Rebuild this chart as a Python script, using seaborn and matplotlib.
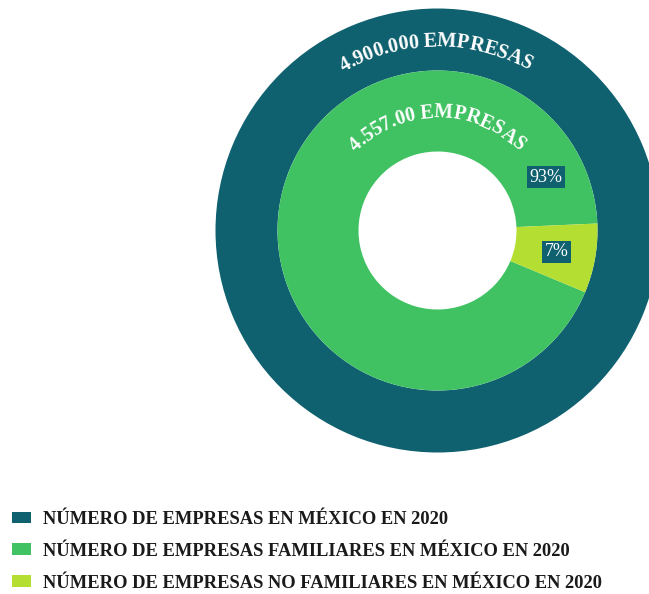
import numpy as np
import matplotlib
matplotlib.use("Agg")
import matplotlib.pyplot as plt
import seaborn as sns
from matplotlib.font_manager import FontProperties

# Data
total_firms_label = "4.900.000 EMPRESAS"
family_firms_label = "4.557.00 EMPRESAS"
outer_values = [100]
inner_categories = ["Familiares", "No familiares"]
inner_values = [93, 7]
pct_labels = ["93%", "7%"]
legend_labels = [
    "NÚMERO DE EMPRESAS EN MÉXICO EN 2020",
    "NÚMERO DE EMPRESAS FAMILIARES EN MÉXICO EN 2020",
    "NÚMERO DE EMPRESAS NO FAMILIARES EN MÉXICO EN 2020",
]

TEAL = "#0f6170"
GREEN = "#41c262"
LIME = "#b4de31"

sns.set_theme(style="white")
plt.rcParams["font.family"] = ["Liberation Serif", "DejaVu Serif"]

W, H = 649, 594
fig = plt.figure(figsize=(W / 100, H / 100), dpi=100)
ax = fig.add_axes([0, 0, 1, 1])

cx, cy = 437.5, H - 230.5
R_OUT, R_MID, R_HOLE = 222, 160, 79

outer_wedges, _ = ax.pie(outer_values, radius=R_OUT, center=(cx, cy),
                         colors=[TEAL], startangle=90,
                         wedgeprops=dict(width=R_OUT - R_MID, linewidth=0))
inner_wedges, _ = ax.pie(inner_values, radius=R_MID, center=(cx, cy),
                         colors=[GREEN, LIME], startangle=2.5, counterclock=True,
                         wedgeprops=dict(width=R_MID - R_HOLE, linewidth=0))

ax.set_xlim(0, W)
ax.set_ylim(0, H)
ax.set_aspect("equal")
ax.axis("off")

renderer = fig.canvas.get_renderer()


def text_width(s, prop):
    w, _, _ = renderer.get_text_width_height_descent(s, prop, ismath=False)
    return w


def curved_text(text, radius, mid_deg, fontsize, weight="bold", color="white", tracking=1.0):
    prop = FontProperties(family=["Liberation Serif"], size=fontsize, weight=weight)
    total = text_width(text, prop) * tracking
    for i, ch in enumerate(text):
        if ch == " ":
            continue
        end = text_width(text[: i + 1], prop)
        cw = text_width(ch, prop)
        s = (end - cw / 2) * tracking
        theta = np.radians(mid_deg) + (total / 2 - s) / radius
        x = cx + radius * np.cos(theta)
        y = cy + radius * np.sin(theta)
        ax.text(x, y, ch, fontproperties=prop, color=color,
                rotation=np.degrees(theta) - 90, rotation_mode="anchor",
                ha="center", va="baseline")


curved_text(total_firms_label, 184, 90.5, 14.5)
curved_text(family_firms_label, 113, 90, 14.2)

# Percentage tags on the inner ring
lime_mid = 2.5 - inner_values[1] / sum(inner_values) * 360 / 2
tag_angles = [26, lime_mid]
for lab, ang in zip(pct_labels, tag_angles):
    a = np.radians(ang)
    ax.text(cx + 121 * np.cos(a), cy + 121 * np.sin(a), lab,
            fontsize=13, color="white", ha="center", va="center",
            bbox=dict(boxstyle="square,pad=0.14", fc=TEAL, ec="none"))

handles = [outer_wedges[0], inner_wedges[0], inner_wedges[1]]
fig.legend(handles, legend_labels, loc="upper left",
           bbox_to_anchor=(12 / W, 1 - 511 / H), frameon=False,
           prop=FontProperties(family=["Liberation Serif"], size=13.3, weight="bold"),
           labelcolor="#1a1a1a", handlelength=1.03, handleheight=0.6,
           handletextpad=0.65, labelspacing=0.8, borderpad=0, borderaxespad=0)

fig.savefig("out.png", dpi=100)
